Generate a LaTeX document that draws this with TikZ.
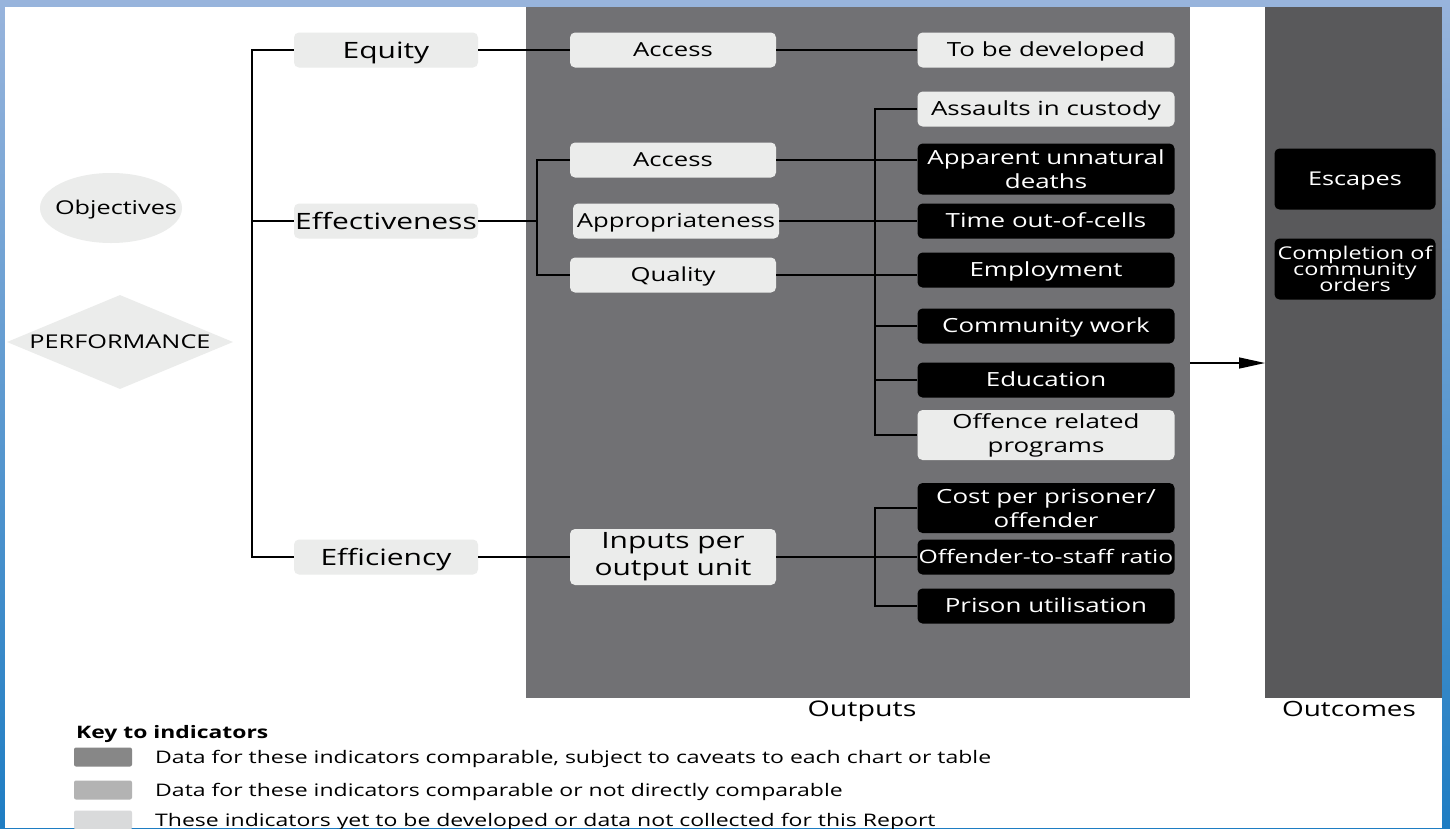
\documentclass[tikz,border=0pt]{standalone}
\usepackage{fontspec}
\setmainfont{Open Sans}[FakeStretch=1.33]
\usetikzlibrary{arrows.meta,shapes.geometric}
\definecolor{lightg}{RGB}{235,236,235}
\definecolor{outpanel}{RGB}{113,113,116}
\definecolor{outcpanel}{RGB}{89,89,91}
\definecolor{keyA}{RGB}{135,135,135}
\definecolor{keyB}{RGB}{179,179,179}
\definecolor{keyC}{RGB}{217,218,219}
\definecolor{frameTop}{RGB}{152,180,220}
\definecolor{frameBot}{RGB}{30,125,195}
\newcommand{\tightlines}{\lineskiplimit -30pt\relax\lineskip 0pt\relax}
\tikzset{
  oneline/.style={text depth=0pt, text height=#1},
  lbox/.style={fill=lightg, rounded corners=5pt, inner sep=0pt, text=black, align=center, font=\fontsize{19.5}{24}\selectfont},
  dbox/.style={fill=black, rounded corners=5pt, inner sep=0pt, text=white, align=center, font=\fontsize{19.5}{24}\selectfont},
  lvlone/.style={lbox, oneline=16.1pt, minimum width=184pt, minimum height=35pt, font=\fontsize{22.5}{24}\selectfont},
  lvltwo/.style={lbox, minimum width=206pt, minimum height=35pt, font=\fontsize{19.3}{24}\selectfont},
  lvlthree/.style={minimum width=257pt, minimum height=35pt},
  conn/.style={draw=black, line width=1.4pt},
  keysw/.style={rounded corners=2pt, minimum width=58pt, minimum height=19pt, inner sep=0pt},
  keytxt/.style={anchor=west, inner sep=0pt, oneline=12.4pt, font=\fontsize{17.3}{19}\selectfont},
}
\begin{document}
\begin{tikzpicture}[x=1pt,y=-1pt]
\useasboundingbox (0,0) rectangle (1450,828);
% frame
\shade[top color=frameTop, bottom color=frameBot] (0,0) rectangle (1450,828);
\fill[white] (5,7) rectangle (1442,828);
% panels
\fill[outpanel] (526,7) rectangle (1190,698);
\fill[outcpanel] (1265,7) rectangle (1442,698);
\node[inner sep=0pt, oneline=15.4pt, font=\fontsize{21.5}{23}\selectfont] (outputs) at (862,709) {Outputs};
\node[inner sep=0pt, oneline=15pt, font=\fontsize{21}{23}\selectfont] (outcomes) at (1349,709) {Outcomes};

% left shapes
\node[ellipse, fill=lightg, minimum width=142pt, minimum height=70pt, inner sep=0pt] (obj) at (111,208) {};
\node[inner sep=0pt, oneline=13.6pt, font=\fontsize{19}{21}\selectfont] (objt) at (116,208) {Objectives};
\node[diamond, fill=lightg, minimum width=226pt, minimum height=94pt, inner sep=0pt, aspect=2.4, oneline=13.6pt, font=\fontsize{19}{21}\selectfont] (perf) at (120,342) {PERFORMANCE};

% level 1
\node[lvlone] (equity) at (386,50) {Equity};
\node[lvlone] (effect) at (386,221) {Effectiveness};
\node[lvlone] (effic) at (386,557) {Efficiency};

% level 2
\node[lvltwo, oneline=13.8pt] (acc1) at (673,50) {Access};
\node[lvltwo, oneline=13.8pt] (acc2) at (673,160) {Access};
\node[lvltwo, oneline=13.8pt] (approp) at (676,221) {Appropriateness};
\node[lvltwo, oneline=13.8pt] (qual) at (673,275) {Quality};
\node[lvltwo, minimum height=56pt, font=\fontsize{22.5}{27}\selectfont] (inputs) at (673,557) {Inputs per\\output unit};

% level 3
\node[lbox, oneline=13.9pt, lvlthree] (tbd) at (1046,50) {To be developed};
\node[lbox, oneline=13.9pt, lvlthree] (assault) at (1046,109) {Assaults in custody};
\node[dbox, lvlthree, minimum height=51pt] (deaths) at (1046,169) {Apparent unnatural\\deaths};
\node[dbox, oneline=13.9pt, lvlthree] (time) at (1046,221) {Time out-of-cells};
\node[dbox, oneline=13.9pt, lvlthree] (employ) at (1046,270) {Employment};
\node[dbox, oneline=13.9pt, lvlthree] (commw) at (1046,326) {Community work};
\node[dbox, oneline=13.9pt, lvlthree] (educ) at (1046,380) {Education};
\node[lbox, lvlthree, minimum height=50pt] (offence) at (1046,435) {Offence related\\programs};
\node[dbox, lvlthree, minimum height=50pt] (cost) at (1046,508) {Cost per prisoner/\\offender};
\node[dbox, oneline=13.3pt, lvlthree, font=\fontsize{18.6}{22}\selectfont] (ratio) at (1046,557) {Offender-to-staff ratio};
\node[dbox, oneline=13.9pt, lvlthree] (util) at (1046,606) {Prison utilisation};

% outcomes
\node[dbox, oneline=13.6pt, minimum width=161pt, minimum height=61pt, font=\fontsize{19}{22}\selectfont] (escapes) at (1355,179) {Escapes};
\node[dbox, minimum width=161pt, minimum height=61pt, font={\fontsize{17.6}{16}\selectfont\tightlines}] (complete) at (1355,269) {Completion of\\community\\orders};

% connectors level 0-1
\coordinate (sp1) at (252,50);
\draw[conn] (equity.west) -- (equity.west -| sp1) |- (effic.west);
\draw[conn] (effect.west) -- (effect.west -| sp1);
% level 1-2
\draw[conn] (equity.east) -- (acc1.west);
\draw[conn] (effic.east) -- (inputs.west |- effic.east);
\coordinate (sp2) at (537,221);
\draw[conn] (effect.east) -- (sp2);
\draw[conn] (acc2.west) -| (sp2) |- (qual.west);
% level 2-3
\draw[conn] (acc1.east) -- (tbd.west);
\draw[conn] (acc2.east) -- (acc2.east -| deaths.west);
\draw[conn] (approp.east) -- (time.west);
\draw[conn] (qual.east) -- (qual.east -| employ.west);
\coordinate (sp3) at (875,109);
\draw[conn] (assault.west) -- (sp3) |- (offence.west);
\draw[conn] (commw.west) -- (commw.west -| sp3);
\draw[conn] (educ.west) -- (educ.west -| sp3);
\coordinate (sp4) at (875,508);
\draw[conn] (cost.west) -- (sp4) |- (util.west);
\draw[conn] (inputs.east |- ratio.west) -- (ratio.west);
% arrow to outcomes
\coordinate (arrs) at (1190,363);
\coordinate (arre) at (1265,363);
\draw[line width=1.4pt, -{Triangle[length=26pt,width=11pt]}] (arrs) -- (arre);

% key
\node[anchor=west, inner sep=0pt, oneline=12.3pt, font=\bfseries\fontsize{17.2}{19}\selectfont] (keyt) at (76,732) {Key to indicators};
\node[keysw, fill=keyA] (swA) at (103,757) {};
\node[keysw, fill=keyB] (swB) at (103,790) {};
\node[keysw, fill=keyC] (swC) at (103,820) {};
\node[keytxt] (kA) at (155,757) {Data for these indicators comparable, subject to caveats to each chart or table};
\node[keytxt] (kB) at (155,790) {Data for these indicators comparable or not directly comparable};
\node[keytxt] (kC) at (155,820) {These indicators yet to be developed or data not collected for this Report};
\end{tikzpicture}
\end{document}
